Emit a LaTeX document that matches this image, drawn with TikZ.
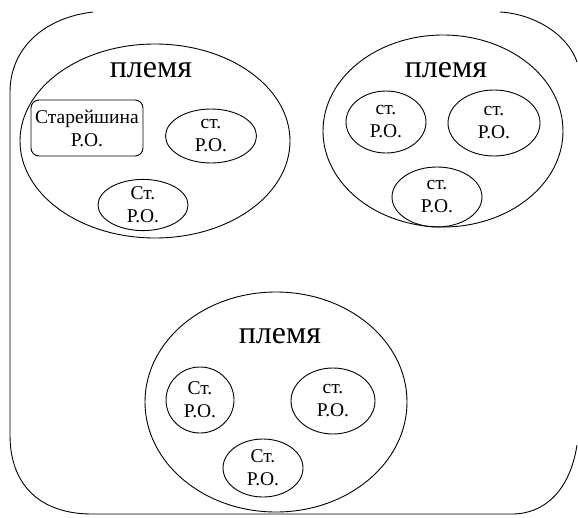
\documentclass[tikz,border=0pt]{standalone}
\usepackage{fontspec}
\setmainfont{Liberation Serif}
\usetikzlibrary{positioning, shapes.geometric}

\begin{document}
\begin{tikzpicture}[x=1pt, y=-1pt, line width=0.9pt,
    tribe/.style={ellipse, draw, inner sep=0pt},
    tribename/.style={inner sep=0pt, font=\fontsize{32}{36}\selectfont},
    clan/.style={ellipse, draw, inner sep=0pt, align=center, font=\fontsize{19.5}{23}\selectfont}]
    \useasboundingbox (0,0) rectangle (578,517);
    % outer frame, open at the top, right side off the page
    \draw (93,12) .. controls (42,18) and (10,50) .. (10,92) -- (10,435)
        .. controls (10,485) and (40,514) .. (92,514) -- (512,514)
        .. controls (545,514) and (570,490) .. (577,445);
    \draw (500,12) .. controls (535,14) and (568,35) .. (577,62);

    % first tribe
    \node[tribe, minimum width=270, minimum height=194] (t1) at (155,141) {};
    \node[tribename] (n1) at (151,70) {племя};
    \node[draw, rounded corners=8pt, minimum width=112, minimum height=56, align=center,
        font=\fontsize{19.5}{23}\selectfont] (e1) at (87,128) {Старейшина\\Р.О.};
    \node[clan, minimum width=91, minimum height=54] (c12) at (211,136) {ст.\\Р.О.};
    \node[clan, minimum width=90, minimum height=46] (c13) at (143,205) {Ст.\\Р.О.};

    % second tribe
    \node[tribe, minimum width=240, minimum height=192] (t2) at (443,131) {};
    \node[tribename] (n2) at (446,70) {племя};
    \node[clan, minimum width=80, minimum height=62] (c21) at (386,122) {ст.\\Р.О.};
    \node[clan, minimum width=92, minimum height=66] (c22) at (494,123) {ст.\\Р.О.};
    \node[clan, minimum width=90, minimum height=60] (c23) at (437,197) {ст.\\Р.О.};

    % third tribe
    \node[tribe, minimum width=262, minimum height=220] (t3) at (276,402) {};
    \node[tribename] (n3) at (280,336) {племя};
    \node[clan, minimum width=68, minimum height=66] (c31) at (200,400) {Ст.\\Р.О.};
    \node[clan, minimum width=84, minimum height=66] (c32) at (333,401) {ст.\\Р.О.};
    \node[clan, minimum width=80, minimum height=58] (c33) at (263,468) {Ст.\\Р.О.};
\end{tikzpicture}
\end{document}
